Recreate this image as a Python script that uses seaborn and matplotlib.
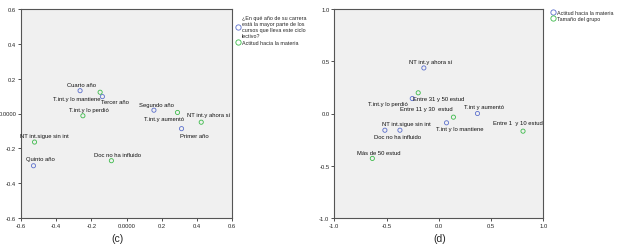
import matplotlib
matplotlib.use('Agg')

import matplotlib.pyplot as plt
import numpy as np
import pandas as pd
import seaborn as sns
from matplotlib.lines import Line2D

# Panel (c) data
c_labels = ["Cuarto año", "Tercer año", "Segundo año", "Primer año", "Quinto año",
            "T.int.y lo mantiene", "T.int.y lo perdió", "T.int.y aumentó",
            "NT int.y ahora sí", "NT int.sigue sin int", "Doc no ha influido"]
c_x = [-0.264, -0.137, 0.156, 0.313, -0.529,
       -0.150, -0.248, 0.290, 0.425, -0.523, -0.086]
c_y = [0.131, 0.097, 0.019, -0.087, -0.300,
       0.122, -0.013, 0.006, -0.050, -0.164, -0.271]
c_group = ["anio"] * 5 + ["actitud"] * 6
c_legend = ["¿En qué año de su carrera\nestá la mayor parte de los\ncursos que lleva este ciclo\nlectivo?",
            "Actitud hacia la materia"]
c_ticks = [-0.6, -0.4, -0.2, 0.0, 0.2, 0.4, 0.6]
c_ticklabels = ["-0.6", "-0.4", "-0.2", "0.0000", "0.2", "0.4", "0.6"]

# Panel (d) data
d_labels = ["NT int.y ahora sí", "T.int.y lo perdió", "T.int y aumentó", "T.int y lo mantiene",
            "NT int.sigue sin int", "Doc no ha influido",
            "Entre 31 y 50 estud", "Entre 11 y 30  estud", "Entre 1  y 10 estud", "Más de 50 estud"]
d_x = [-0.143, -0.254, 0.370, 0.074, -0.516, -0.372,
       -0.197, 0.140, 0.806, -0.636]
d_y = [0.436, 0.143, 0.000, -0.089, -0.160, -0.160,
       0.198, -0.035, -0.169, -0.430]
d_group = ["actitud"] * 6 + ["tamanio"] * 4
d_legend = ["Actitud hacia la materia", "Tamaño del grupo"]
d_ticks = [-1.0, -0.5, 0.0, 0.5, 1.0]
d_ticklabels = ["-1.0", "-0.5", "0.0", "0.5", "1.0"]

blue = "#5b6fcc"
green = "#3cba4a"

# label offsets in pixels (dx, dy up) and alignment
c_offsets = [(1.5, 6, "center"), (-1, -5, "left"), (2.4, 6, "center"), (-1.7, -6.4, "left"),
             (6.7, 7, "center"), (0, -6, "right"), (6, 6.6, "center"), (6.5, -5.7, "right"),
             (7.7, 7.4, "center"), (10, 7, "center"), (6.3, 6.6, "center")]
d_offsets = [(6.5, 6.6, "center"), (-5, -5.3, "right"), (6.7, 7, "center"), (13.5, -5.7, "center"),
             (-2.6, 6.4, "left"), (-2, -6, "center"),
             (-5, -5.7, "left"), (-1.3, 8.7, "right"), (-4.7, 9, "center"), (6, 6.3, "center")]

sns.set_style("white")
plt.rcParams['font.family'] = ['Liberation Sans', 'DejaVu Sans']

fig = plt.figure(figsize=(6.25, 2.53), dpi=100)
ax_c = fig.add_axes([21 / 625, 1 - 219 / 253, 211 / 625, 209 / 253])
ax_d = fig.add_axes([334.3 / 625, 1 - 219 / 253, 209 / 625, 209 / 253])


def draw_panel(ax, xs, ys, groups, labels, offsets, palette, ticks, ticklabels, lims):
    df = pd.DataFrame({"x": xs, "y": ys, "g": groups})
    sns.scatterplot(data=df, x="x", y="y", hue="g", palette=palette, s=9,
                    marker="o", linewidth=0.6, legend=False, ax=ax)
    # hollow circles
    for coll in ax.collections:
        fc = coll.get_facecolors()
        coll.set_edgecolors(fc)
        coll.set_facecolors("none")
    for x, y, lab, (dx, dy, ha) in zip(xs, ys, labels, offsets):
        ax.annotate(lab, (x, y), xytext=(dx, dy), textcoords="offset pixels",
                    ha=ha, va="center", fontsize=4.2, color="#111111")
    ax.set_xlim(lims)
    ax.set_ylim(lims)
    ax.set_xticks(ticks)
    ax.set_yticks(ticks)
    ax.set_xticklabels(ticklabels)
    ax.set_yticklabels(ticklabels)
    ax.set_xlabel("")
    ax.set_ylabel("")
    ax.set_facecolor("#f0f0f0")
    for sp in ax.spines.values():
        sp.set_color("#555555")
        sp.set_linewidth(0.8)
    ax.tick_params(axis="both", direction="out", length=2.5, width=0.6, color="#333333",
                   labelsize=4.2, pad=1, left=True, bottom=True)


draw_panel(ax_c, c_x, c_y, c_group, c_labels, c_offsets,
           {"anio": blue, "actitud": green}, c_ticks, c_ticklabels, (-0.6, 0.6))
draw_panel(ax_d, d_x, d_y, d_group, d_labels, d_offsets,
           {"actitud": blue, "tamanio": green}, d_ticks, d_ticklabels, (-1.0, 1.0))


def make_handles(colors):
    return [Line2D([], [], linestyle="none", marker="o", markersize=3.8,
                   markerfacecolor="none", markeredgecolor=c, markeredgewidth=0.6)
            for c in colors]


fig.legend(make_handles([blue, green]), c_legend, loc="upper left",
           bbox_to_anchor=(236 / 625, 1 - 16.5 / 253), frameon=False, fontsize=3.9,
           handlelength=0.8, handletextpad=0.3, labelspacing=0.35, borderaxespad=0,
           borderpad=0)
fig.legend(make_handles([blue, green]), d_legend, loc="upper left",
           bbox_to_anchor=(551 / 625, 1 - 11 / 253), frameon=False, fontsize=3.9,
           handlelength=0.8, handletextpad=0.3, labelspacing=0.2, borderaxespad=0,
           borderpad=0)

fig.text(118 / 625, 1 - 239 / 253, "(c)", ha="center", va="center", fontsize=7.5)
fig.text(440 / 625, 1 - 239 / 253, "(d)", ha="center", va="center", fontsize=7.5)

plt.savefig("out.png", dpi=100, facecolor="white")
